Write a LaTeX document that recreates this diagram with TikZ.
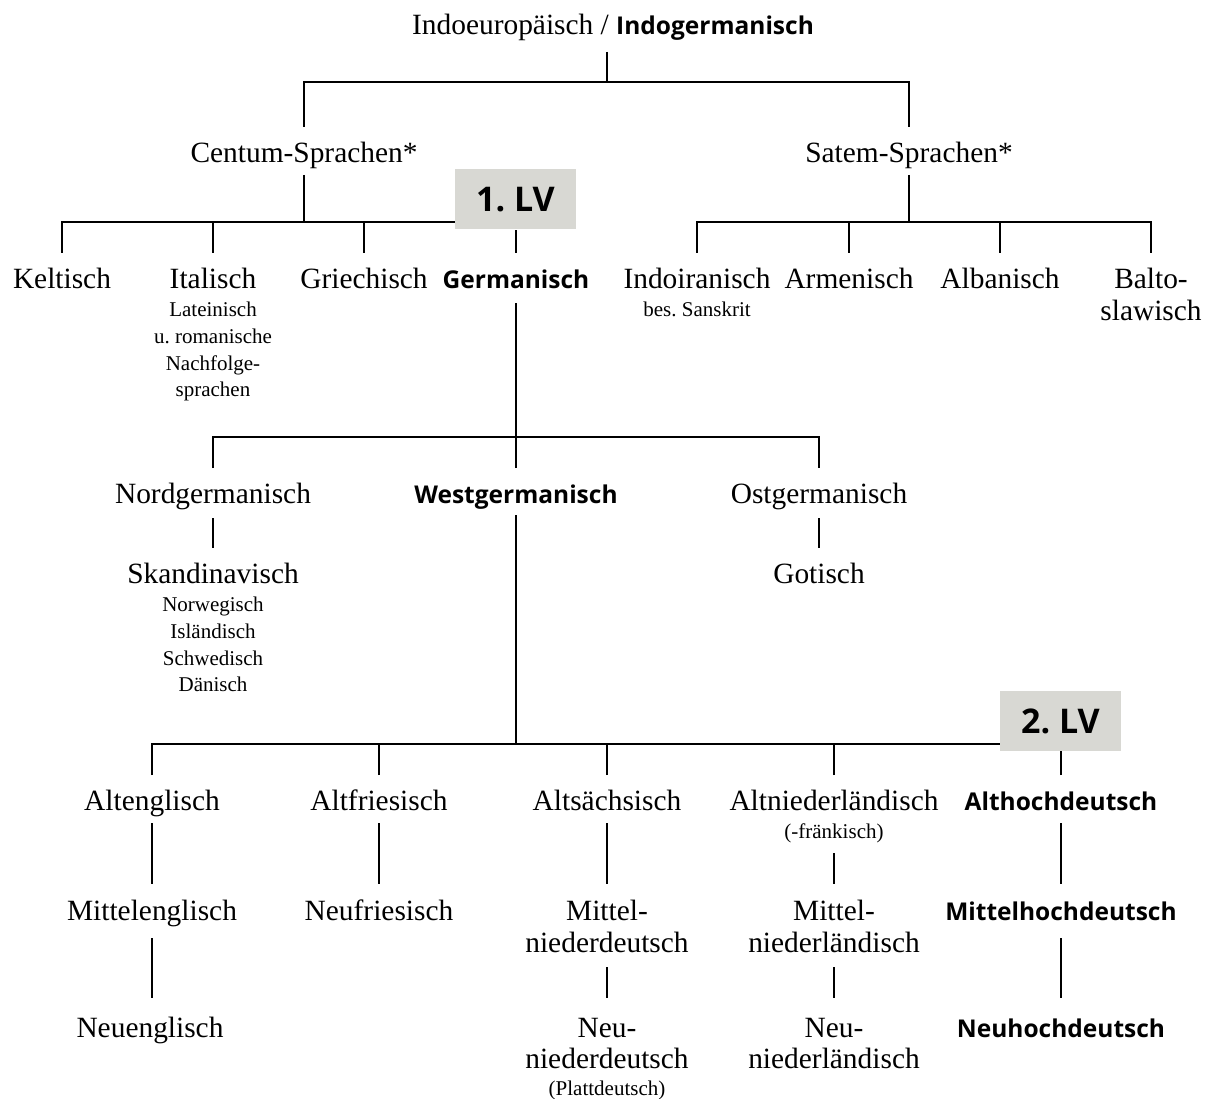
\documentclass[tikz,border=0pt]{standalone}
\usepackage{fontspec}
\setmainfont{Liberation Serif}
\newfontfamily\bsans{Open Sans}
\definecolor{lvgray}{RGB}{216,216,211}
\frenchspacing
\begin{document}
\begin{tikzpicture}[x=1pt,y=-1pt,
  lbl/.style={anchor=base,inner sep=0pt,font=\fontsize{29.4}{31}\selectfont},
  sub/.style={anchor=base,inner sep=0pt,font=\fontsize{21}{23}\selectfont},
  blbl/.style={anchor=base,inner sep=0pt,font=\bsans\bfseries\fontsize{24.5}{28}\selectfont},
  lvbox/.style={fill=lvgray,inner sep=0pt,minimum width=121pt,minimum height=60pt,font=\bsans\bfseries\fontsize{34}{36}\selectfont},
  ln/.style={line width=1.6pt}]
\useasboundingbox (0,0) rectangle (1212,1099);
% texts
\node[lbl] (title) at (613,35) {Indoeuropäisch / {\bsans\bfseries\fontsize{24.5}{28}\selectfont Indogermanisch}};
\node[lbl] (centum) at (304,163) {Centum-Sprachen*};
\node[lbl] (satem) at (909,163) {Satem-Sprachen*};
\node[lvbox] (lv1) at (515.5,199.5) {1. LV};
\node[lbl] (kelt) at (62,288) {Keltisch};
\node[lbl] (ital) at (213,288) {Italisch};
\node[sub] (ital1) at (213,316) {Lateinisch};
\node[sub] (ital2) at (213,343) {u. romanische};
\node[sub] (ital3) at (213,370) {Nachfolge-};
\node[sub] (ital4) at (213,396) {sprachen};
\node[lbl] (griech) at (364,288) {Griechisch};
\node[blbl] (germ) at (516,288) {Germanisch};
\node[lbl] (indoir) at (697,288) {Indoiranisch};
\node[sub] (sansk) at (697,316) {bes. Sanskrit};
\node[lbl] (armen) at (849,288) {Armenisch};
\node[lbl] (alban) at (1000,288) {Albanisch};
\node[lbl] (balto) at (1151,288) {Balto-};
\node[lbl] (balto2) at (1151,320) {slawisch};
\node[lbl] (nord) at (213,503) {Nordgermanisch};
\node[blbl] (west) at (516,503) {Westgermanisch};
\node[lbl] (ost) at (819,503) {Ostgermanisch};
\node[lbl] (skand) at (213,583) {Skandinavisch};
\node[sub] (skand1) at (213,611) {Norwegisch};
\node[sub] (skand2) at (213,638) {Isländisch};
\node[sub] (skand3) at (213,665) {Schwedisch};
\node[sub] (skand4) at (213,691) {Dänisch};
\node[lbl] (got) at (819,583) {Gotisch};
\node[lvbox] (lv2) at (1060.5,721) {2. LV};
\node[lbl] (aengl) at (152,810) {Altenglisch};
\node[lbl] (afries) at (379,810) {Altfriesisch};
\node[lbl] (asachs) at (607,810) {Altsächsisch};
\node[lbl] (anl) at (834,810) {Altniederländisch};
\node[sub] (anl2) at (834,838) {(-fränkisch)};
\node[blbl] (ahd) at (1061,810) {Althochdeutsch};
\node[lbl] (mengl) at (152,920) {Mittelenglisch};
\node[lbl] (nfries) at (379,920) {Neufriesisch};
\node[lbl] (mnd) at (607,920) {Mittel-};
\node[lbl] (mnd2) at (607,952) {niederdeutsch};
\node[lbl] (mnl) at (834,920) {Mittel-};
\node[lbl] (mnl2) at (834,952) {niederländisch};
\node[blbl] (mhd) at (1061,920) {Mittelhochdeutsch};
\node[lbl] (nengl) at (150,1037) {Neuenglisch};
\node[lbl] (nnd) at (607,1037) {Neu-};
\node[lbl] (nnd2) at (607,1068) {niederdeutsch};
\node[sub] (nnd3) at (607,1095) {(Plattdeutsch)};
\node[lbl] (nnl) at (834,1037) {Neu-};
\node[lbl] (nnl2) at (834,1068) {niederländisch};
\node[blbl] (nhd) at (1061,1037) {Neuhochdeutsch};
% junction coordinates
\coordinate (j0) at (607,82);
\coordinate (j1) at (304,222);
\coordinate (j2) at (909,222);
\coordinate (j3) at (516,437);
\coordinate (j4) at (516,744);
% connectors
\draw[ln] (607,52) -- (j0);
\draw[ln] (centum |- 0,127) -- (centum |- j0) -- (satem |- j0) -- (satem |- 0,127);
\draw[ln] (centum |- 0,175) -- (j1);
\draw[ln] (kelt |- 0,253) -- (kelt |- j1) -- (lv1.west |- j1);
\draw[ln] (ital |- 0,253) -- (ital |- j1);
\draw[ln] (griech |- 0,253) -- (griech |- j1);
\draw[ln] (germ |- 0,253) -- (germ |- lv1.south);
\draw[ln] (satem |- 0,175) -- (j2);
\draw[ln] (indoir |- 0,253) -- (indoir |- j2) -- (balto |- j2) -- (balto |- 0,253);
\draw[ln] (armen |- 0,253) -- (armen |- j2);
\draw[ln] (alban |- 0,253) -- (alban |- j2);
\draw[ln] (germ |- 0,303) -- (j3);
\draw[ln] (nord |- 0,468) -- (nord |- j3) -- (ost |- j3) -- (ost |- 0,468);
\draw[ln] (west |- 0,468) -- (j3);
\draw[ln] (nord |- 0,518) -- (nord |- 0,548);
\draw[ln] (ost |- 0,518) -- (ost |- 0,548);
\draw[ln] (west |- 0,515) -- (j4);
\draw[ln] (aengl |- 0,775) -- (aengl |- j4) -- (lv2.west |- j4);
\draw[ln] (afries |- 0,775) -- (afries |- j4);
\draw[ln] (asachs |- 0,775) -- (asachs |- j4);
\draw[ln] (anl |- 0,775) -- (anl |- j4);
\draw[ln] (ahd |- 0,775) -- (ahd |- lv2.south);
\draw[ln] (aengl |- 0,823) -- (aengl |- 0,884);
\draw[ln] (afries |- 0,823) -- (afries |- 0,884);
\draw[ln] (asachs |- 0,823) -- (asachs |- 0,884);
\draw[ln] (anl |- 0,853) -- (anl |- 0,884);
\draw[ln] (ahd |- 0,823) -- (ahd |- 0,884);
\draw[ln] (mengl |- 0,938) -- (mengl |- 0,998);
\draw[ln] (mnd |- 0,967) -- (mnd |- 0,998);
\draw[ln] (mnl |- 0,967) -- (mnl |- 0,998);
\draw[ln] (mhd |- 0,938) -- (mhd |- 0,998);
\end{tikzpicture}
\end{document}
